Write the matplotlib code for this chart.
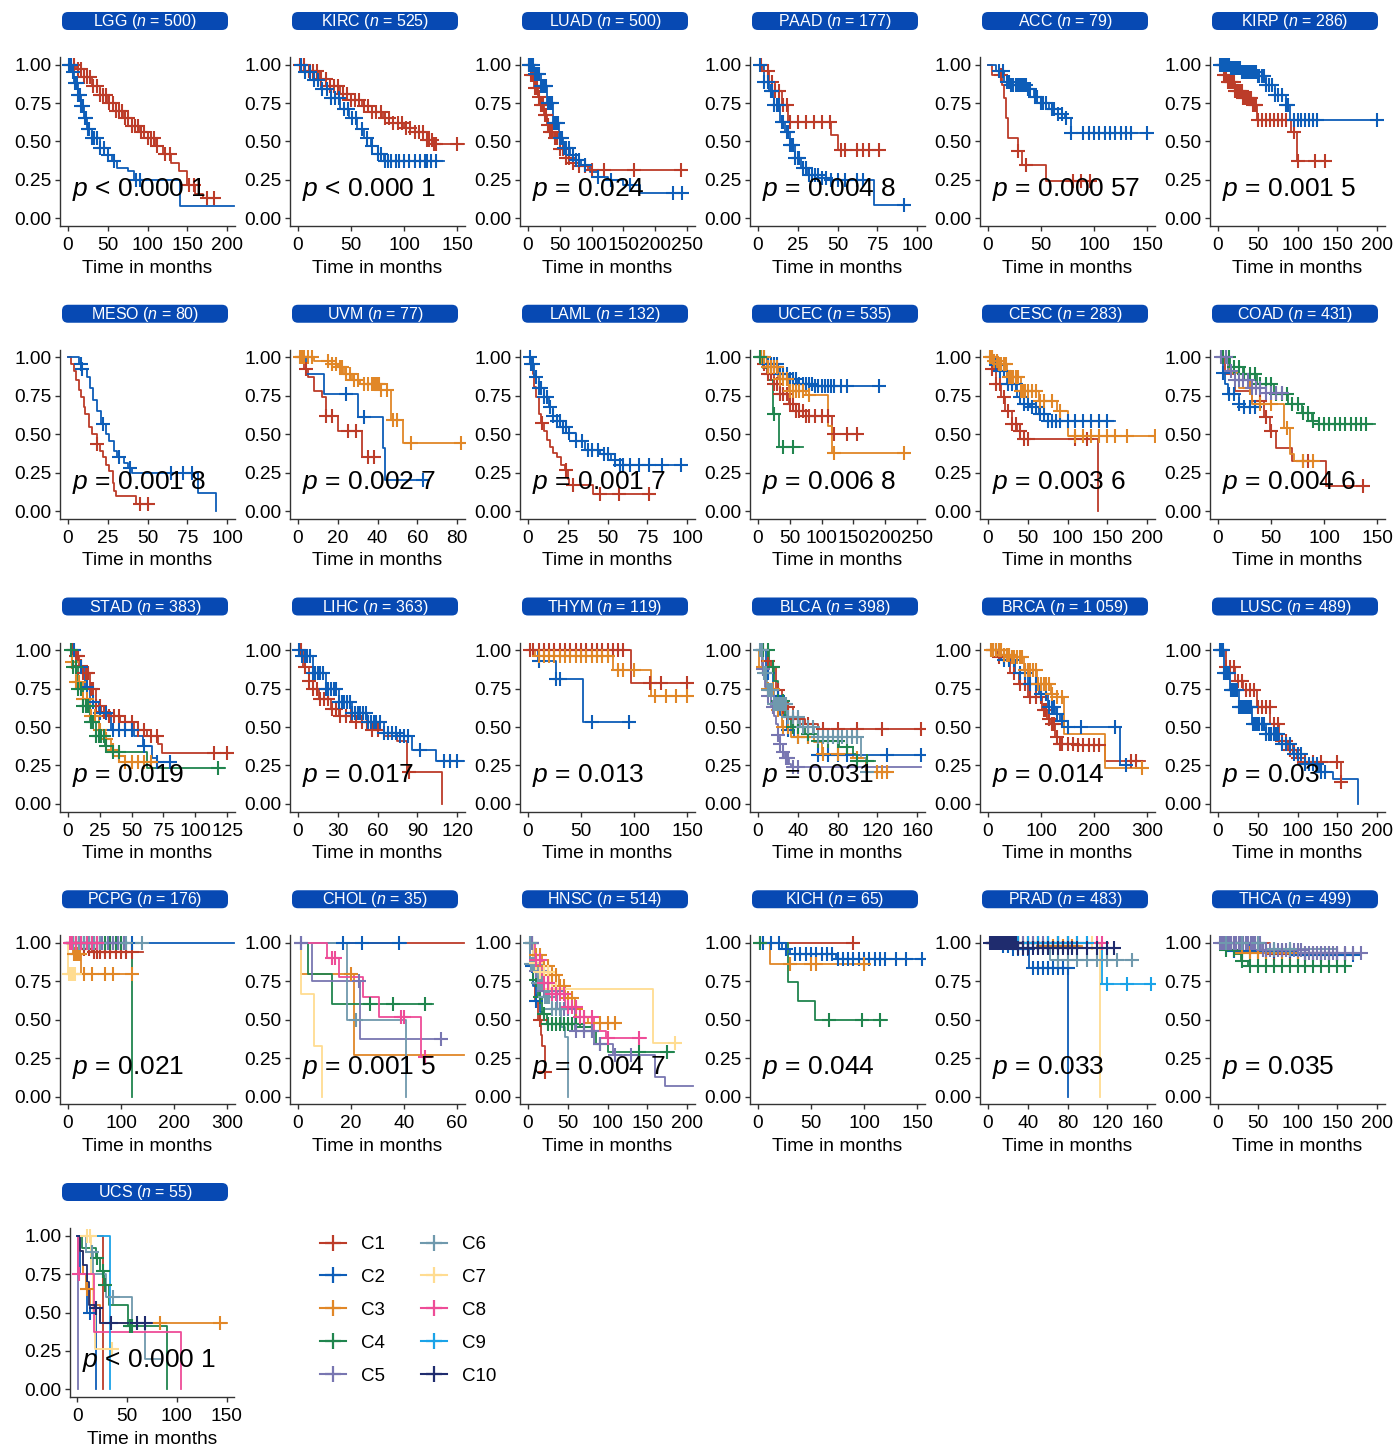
import numpy as np
import matplotlib
matplotlib.use("Agg")
import matplotlib.pyplot as plt
from matplotlib.patches import FancyBboxPatch
from matplotlib.lines import Line2D
from matplotlib.transforms import IdentityTransform

plt.rcParams['font.family'] = ['Liberation Sans', 'DejaVu Sans']
plt.rcParams['mathtext.fontset'] = 'custom'
plt.rcParams['mathtext.rm'] = 'Liberation Sans'
plt.rcParams['mathtext.it'] = 'Liberation Sans:italic'

# cluster colours
cluster_names = ["C1", "C2", "C3", "C4", "C5", "C6", "C7", "C8", "C9", "C10"]
cluster_colors = ["#BC3C29", "#0D5DB8", "#E18727", "#20854E", "#7876B1",
                  "#6F99AD", "#FFDC91", "#EE4C97", "#1AA3E8", "#1F2C6E"]
bar_color = "#0749B3"

# each curve: (step times, survival after step, last follow-up, censor times)
LGG = {
    "C1": ([0, 10, 20, 30, 40, 50, 60, 70, 80, 90, 100, 110, 120, 130, 140, 150, 160, 170],
           [1.0, 0.97, 0.92, 0.86, 0.80, 0.75, 0.70, 0.65, 0.60, 0.56, 0.52, 0.47, 0.42, 0.36, 0.31, 0.22, 0.16, 0.13],
           185, [3, 8, 12, 16, 20, 24, 28, 32, 36, 40, 44, 48, 52, 56, 60, 64, 68, 72, 76, 80, 84, 88, 92, 96,
                 100, 104, 108, 112, 122, 128, 152, 158, 175, 183]),
    "C2": ([0, 5, 8, 12, 16, 20, 24, 30, 40, 50, 55, 62, 75, 83, 141],
           [1.0, 0.95, 0.88, 0.80, 0.73, 0.65, 0.58, 0.52, 0.46, 0.41, 0.37, 0.33, 0.31, 0.25, 0.08],
           209, [1, 4, 6, 9, 11, 13, 15, 17, 19, 21, 23, 25, 27, 30, 33, 36, 40, 45, 50, 58, 85, 90]),
}
KIRC = {
    "C1": ([0, 10, 20, 30, 40, 50, 60, 70, 80, 90, 100, 110, 122, 128],
           [1.0, 0.96, 0.91, 0.86, 0.81, 0.77, 0.73, 0.69, 0.65, 0.62, 0.59, 0.565, 0.51, 0.485],
           157, [2, 6, 10, 14, 18, 22, 26, 30, 34, 38, 42, 46, 50, 54, 58, 62, 66, 70, 74, 78, 82, 86, 90, 94,
                 98, 102, 106, 110, 114, 118, 122, 124, 126, 128, 130, 150]),
    "C2": ([0, 7, 14, 22, 31, 40, 48, 56, 62, 69, 75, 81],
           [1.0, 0.95, 0.90, 0.84, 0.78, 0.71, 0.65, 0.58, 0.52, 0.47, 0.42, 0.37],
           138, [3, 7, 11, 15, 19, 23, 27, 31, 35, 39, 43, 47, 51, 55, 60, 65, 70, 75, 78, 82, 85, 88, 92, 95,
                 100, 105, 110, 115, 120, 122, 125, 130]),
}
LUAD = {
    "C1": ([0, 5, 10, 15, 20, 25, 30, 35, 40, 50, 60, 70, 80, 95],
           [1.0, 0.93, 0.85, 0.79, 0.74, 0.67, 0.61, 0.56, 0.52, 0.45, 0.39, 0.36, 0.34, 0.315],
           247, [2, 5, 8, 11, 14, 17, 20, 23, 26, 29, 32, 35, 38, 42, 46, 50, 55, 60, 65, 70, 80, 90, 100, 120,
                 166, 240]),
    "C2": ([0, 10, 20, 30, 40, 48, 55, 66, 75, 84, 98, 110, 126, 150, 176],
           [1.0, 0.94, 0.86, 0.75, 0.62, 0.52, 0.46, 0.41, 0.38, 0.35, 0.30, 0.27, 0.25, 0.22, 0.165],
           250, [2, 5, 8, 11, 14, 17, 20, 23, 26, 29, 32, 35, 38, 41, 44, 47, 50, 53, 56, 60, 65, 70, 75, 80,
                 90, 110, 130, 160, 228, 242]),
}
PAAD = {
    "C1": ([0, 3, 7, 11, 15, 19, 46, 50],
           [1.0, 0.96, 0.89, 0.83, 0.74, 0.63, 0.54, 0.445],
           80, [2, 6, 9, 11, 13, 16, 18, 20, 25, 30, 35, 40, 45, 52, 55, 62, 66, 70, 76]),
    "C2": ([0, 4, 7, 10, 14, 17, 20, 23, 27, 31, 40, 45, 73],
           [1.0, 0.89, 0.83, 0.74, 0.63, 0.565, 0.48, 0.39, 0.33, 0.28, 0.26, 0.25, 0.087],
           93, [1, 4, 6, 8, 9, 10, 12, 13, 15, 16, 18, 19, 20, 21, 22, 23, 25, 26, 28, 30, 32, 34, 36, 38, 40,
                43, 46, 50, 55, 62, 66, 92]),
}
ACC = {
    "C1": ([0, 4, 13, 15, 17, 19, 28, 32, 55],
           [1.0, 0.935, 0.87, 0.78, 0.65, 0.52, 0.435, 0.35, 0.24],
           98, [12, 28, 36, 80, 88, 96]),
    "C2": ([0, 8, 15, 22, 38, 43, 50, 58, 66, 73, 78],
           [1.0, 0.96, 0.89, 0.87, 0.84, 0.79, 0.75, 0.71, 0.68, 0.65, 0.555],
           153, [10, 14, 18, 20, 22, 24, 26, 28, 30, 32, 34, 36, 38, 40, 44, 46, 50, 52, 55, 60, 62, 66, 70, 74,
                 78, 90, 95, 100, 105, 110, 115, 120, 125, 130, 135, 150]),
}
KIRP = {
    "C1": ([0, 7, 12, 21, 32, 43, 49, 92, 99],
           [1.0, 0.935, 0.89, 0.83, 0.78, 0.74, 0.64, 0.565, 0.37],
           136, [5, 8, 10, 12, 14, 16, 18, 20, 22, 24, 26, 28, 30, 32, 34, 36, 38, 40, 42, 44, 46, 48, 50, 55,
                 60, 65, 70, 75, 80, 85, 95, 100, 122, 135]),
    "C2": ([0, 15, 30, 50, 60, 72, 85, 91],
           [1.0, 0.98, 0.955, 0.925, 0.87, 0.80, 0.74, 0.64],
           203, [2, 4, 6, 8, 10, 12, 14, 16, 18, 20, 22, 24, 26, 28, 30, 32, 34, 36, 38, 40, 42, 44, 46, 48, 50,
                 52, 55, 58, 60, 64, 68, 72, 76, 80, 85, 88, 95, 100, 105, 110, 115, 120, 125, 200]),
}
MESO = {
    "C1": ([0, 2, 4, 5, 7, 8, 10, 11, 13, 15, 18, 20, 22, 24, 26, 28, 29, 30, 43],
           [1.0, 0.96, 0.91, 0.85, 0.79, 0.74, 0.68, 0.63, 0.55, 0.50, 0.435, 0.39, 0.35, 0.30, 0.26, 0.18,
            0.13, 0.10, 0.043],
           52, [18, 45, 50]),
    "C2": ([0, 7, 9, 12, 14, 16, 18, 21, 24, 26, 29, 31, 35, 38, 40, 82, 93],
           [1.0, 0.96, 0.925, 0.87, 0.80, 0.72, 0.65, 0.565, 0.50, 0.455, 0.39, 0.35, 0.31, 0.28, 0.25, 0.12,
            0.0],
           93, [8, 9, 22, 32, 39, 65, 72, 78]),
}
UVM = {
    "C1": ([0, 3, 5, 8, 12, 14, 20, 32],
           [1.0, 0.925, 0.87, 0.78, 0.74, 0.62, 0.52, 0.35],
           41, [2, 4, 14, 17, 25, 29, 35, 38]),
    "C2": ([0, 4, 13, 30, 43, 44],
           [1.0, 0.89, 0.76, 0.61, 0.41, 0.20],
           65, [24, 33, 63]),
    "C3": ([0, 8, 17, 20, 23, 27, 31, 42, 47, 53],
           [1.0, 0.98, 0.955, 0.935, 0.89, 0.85, 0.83, 0.79, 0.59, 0.445],
           83, [1, 2, 3, 5, 7, 15, 17, 19, 21, 22, 24, 26, 28, 30, 33, 35, 37, 38, 39, 40, 41, 42, 45, 48, 50,
                57, 82]),
}
LAML = {
    "C1": ([0, 2, 3, 4, 5, 7, 8, 10, 12, 14, 16, 18, 21, 23, 25, 26, 41],
           [1.0, 0.93, 0.89, 0.81, 0.74, 0.63, 0.57, 0.52, 0.46, 0.42, 0.38, 0.35, 0.30, 0.27, 0.21, 0.17,
            0.11],
           78, [9, 24, 28, 45, 57, 76]),
    "C2": ([0, 2, 4, 7, 10, 13, 16, 18, 22, 26, 30, 36, 45, 52, 58],
           [1.0, 0.955, 0.87, 0.80, 0.74, 0.675, 0.62, 0.585, 0.55, 0.51, 0.455, 0.40, 0.37, 0.33, 0.30],
           97, [1, 2, 3, 5, 7, 8, 10, 12, 14, 16, 18, 20, 22, 24, 26, 30, 34, 38, 40, 44, 48, 50, 55, 58, 60,
                64, 70, 76, 84, 96]),
}
UCEC = {
    "C1": ([0, 7, 14, 25, 35, 49, 60, 75, 116],
           [1.0, 0.955, 0.89, 0.83, 0.76, 0.70, 0.65, 0.62, 0.50],
           162, [10, 15, 20, 25, 30, 35, 40, 45, 50, 55, 60, 65, 70, 75, 80, 90, 100, 110, 120, 140, 155]),
    "C2": ([0, 14, 32, 49, 63, 90],
           [1.0, 0.955, 0.89, 0.86, 0.83, 0.815],
           197, [5, 10, 15, 20, 25, 30, 35, 40, 45, 50, 55, 60, 65, 70, 75, 80, 85, 90, 95, 100, 105, 110, 115,
                 120, 130, 140, 190]),
    "C3": ([0, 14, 32, 49, 75, 110, 116],
           [1.0, 0.935, 0.86, 0.78, 0.755, 0.555, 0.38],
           236, [5, 10, 15, 20, 25, 30, 35, 40, 45, 50, 55, 60, 65, 70, 80, 120, 230]),
    "C4": ([0, 8, 15, 23, 33],
           [1.0, 0.93, 0.85, 0.63, 0.42],
           70, [3, 25, 40, 55]),
}
CESC = {
    "C1": ([0, 5, 10, 16, 22, 30, 36, 45, 138],
           [1.0, 0.925, 0.83, 0.74, 0.65, 0.565, 0.52, 0.467, 0.0],
           138, [5, 10, 15, 20, 25, 30, 35, 40, 45, 50, 110, 125]),
    "C2": ([0, 7, 13, 24, 36, 45, 53, 64, 75],
           [1.0, 0.95, 0.91, 0.83, 0.74, 0.70, 0.675, 0.63, 0.585],
           160, [5, 10, 15, 20, 25, 30, 35, 40, 45, 50, 55, 60, 65, 70, 75, 80, 85, 90, 100, 110, 120, 130, 140,
                 150]),
    "C3": ([0, 8, 13, 24, 41, 64, 87, 101],
           [1.0, 0.98, 0.955, 0.87, 0.78, 0.717, 0.65, 0.49],
           211, [2, 5, 8, 11, 14, 17, 20, 23, 26, 29, 32, 35, 38, 41, 44, 47, 50, 55, 60, 65, 70, 80, 90, 110,
                 120, 130, 140, 150, 160, 175, 210]),
}
COAD = {
    "C1": ([0, 7, 16, 32, 43, 49, 55, 70, 102],
           [1.0, 0.89, 0.78, 0.717, 0.61, 0.52, 0.41, 0.326, 0.165],
           137, [40, 45, 50, 80, 85, 137]),
    "C2": ([0, 5, 7, 9, 20, 25],
           [1.0, 0.90, 0.83, 0.76, 0.70, 0.675],
           39, [5, 10, 15, 20, 25, 30, 35]),
    "C3": ([0, 10, 20, 32, 62, 68, 72],
           [1.0, 0.90, 0.80, 0.70, 0.543, 0.37, 0.326],
           91, [30, 40, 50, 65, 80, 90]),
    "C4": ([0, 11, 24, 37, 53, 66, 79, 89, 95],
           [1.0, 0.935, 0.89, 0.83, 0.76, 0.70, 0.64, 0.585, 0.565],
           148, [5, 10, 15, 20, 25, 30, 35, 40, 45, 50, 55, 60, 65, 70, 75, 80, 85, 90, 95, 100, 105, 110, 115,
                 120, 125, 130, 135, 140]),
    "C5": ([0, 9, 16, 32, 45],
           [1.0, 0.91, 0.85, 0.80, 0.77],
           62, [3, 8, 12, 16, 20, 24, 28, 32, 36, 40, 45, 50, 55, 60]),
}
STAD = {
    "C1": ([0, 5, 9, 12, 17, 22, 26, 31, 41, 52, 62, 71, 74],
           [1.0, 0.96, 0.90, 0.85, 0.745, 0.635, 0.60, 0.57, 0.53, 0.48, 0.44, 0.39, 0.33],
           127, [4, 6, 8, 10, 12, 14, 16, 18, 20, 22, 25, 28, 32, 36, 40, 45, 50, 55, 60, 65, 70, 115, 125]),
    "C2": ([0, 6, 13, 17, 24, 34, 52, 59, 66, 70],
           [1.0, 0.89, 0.76, 0.66, 0.59, 0.48, 0.44, 0.375, 0.30, 0.27],
           85, [5, 10, 15, 20, 25, 30, 35, 40, 45, 50, 60, 70, 80]),
    "C3": ([0, 3, 6, 12, 17, 24, 29, 34, 40, 45],
           [1.0, 0.92, 0.79, 0.68, 0.57, 0.48, 0.42, 0.35, 0.31, 0.27],
           66, [3, 6, 9, 12, 15, 18, 21, 25, 30, 35, 40, 45, 50, 55, 60, 65]),
    "C4": ([0, 3, 8, 12, 17, 22, 29, 35, 62],
           [1.0, 0.89, 0.745, 0.635, 0.53, 0.44, 0.375, 0.34, 0.235],
           123, [2, 4, 6, 8, 10, 12, 14, 16, 18, 20, 22, 24, 26, 28, 30, 35, 40, 118]),
}
LIHC = {
    "C1": ([0, 4, 8, 11, 16, 25, 31, 41, 55, 65, 75, 82, 109],
           [1.0, 0.89, 0.80, 0.745, 0.68, 0.615, 0.57, 0.53, 0.48, 0.44, 0.41, 0.21, 0.0],
           109, [2, 5, 8, 11, 14, 17, 20, 23, 26, 29, 32, 36, 40, 44, 48, 52, 56, 60, 84]),
    "C2": ([0, 3, 11, 21, 31, 41, 52, 65, 75, 86, 104],
           [1.0, 0.96, 0.85, 0.745, 0.66, 0.59, 0.53, 0.46, 0.44, 0.35, 0.28],
           125, [1, 3, 5, 7, 9, 11, 13, 15, 17, 19, 21, 23, 25, 27, 29, 31, 33, 35, 37, 39, 41, 43, 45, 47, 49,
                 51, 53, 55, 57, 59, 62, 65, 68, 71, 74, 77, 80, 83, 92, 110, 115, 120]),
}
THYM = {
    "C1": ([0, 97],
           [1.0, 0.785],
           154, [2, 5, 10, 15, 20, 25, 30, 35, 40, 45, 50, 55, 60, 65, 70, 75, 80, 85, 90, 115, 125, 150]),
    "C2": ([0, 9, 26, 52],
           [1.0, 0.93, 0.81, 0.535],
           100, [10, 26, 30, 60, 95]),
    "C3": ([0, 7, 80, 116],
           [1.0, 0.96, 0.87, 0.70],
           154, [10, 15, 20, 25, 30, 35, 40, 45, 50, 55, 60, 65, 70, 75, 85, 90, 100, 120, 130, 140, 150]),
}
BLCA = {
    "C1": ([0, 10, 13, 18, 24, 35, 47, 60],
           [1.0, 0.93, 0.89, 0.74, 0.63, 0.55, 0.52, 0.49],
           164, [5, 10, 15, 20, 25, 30, 35, 40, 50, 65, 80, 100, 125, 164]),
    "C2": ([0, 8, 15, 22, 29, 36, 60],
           [1.0, 0.85, 0.70, 0.58, 0.48, 0.435, 0.315],
           164, [10, 20, 30, 40, 50, 60, 70, 80, 90, 130, 164]),
    "C3": ([0, 1, 8, 16, 24, 33, 56, 64, 96, 109],
           [1.0, 0.89, 0.75, 0.61, 0.50, 0.435, 0.40, 0.326, 0.30, 0.21],
           136, [5, 10, 15, 20, 25, 30, 40, 50, 65, 80, 100, 120, 125, 130]),
    "C4": ([0, 11, 16, 20, 27, 33, 47, 60, 82, 96, 100],
           [1.0, 0.89, 0.80, 0.67, 0.565, 0.50, 0.455, 0.41, 0.37, 0.326, 0.28],
           118, [5, 10, 15, 20, 25, 30, 35, 40, 50, 60, 70, 80, 90, 100, 110]),
    "C5": ([0, 4, 7, 10, 13, 16, 18, 20, 22, 25, 27, 31, 33],
           [1.0, 0.88, 0.76, 0.70, 0.63, 0.57, 0.52, 0.45, 0.39, 0.34, 0.30, 0.26, 0.24],
           164, [5, 10, 15, 20, 22, 25, 28, 30, 35, 40]),
    "C6": ([0, 5, 9, 16, 29, 42, 56, 104, 110],
           [1.0, 0.85, 0.74, 0.65, 0.565, 0.50, 0.435, 0.30, 0.21],
           125, [2, 4, 6, 8, 10, 12, 14, 16, 18, 20, 22, 24, 26, 28, 30, 35, 40, 45, 50, 55, 60, 65, 70, 75, 80,
                 85, 90, 95, 100, 110]),
}
BRCA = {
    "C1": ([0, 17, 42, 59, 76, 101, 112, 118, 127, 131, 170, 220],
           [1.0, 0.955, 0.85, 0.78, 0.695, 0.61, 0.55, 0.52, 0.435, 0.39, 0.38, 0.28],
           296, [10, 20, 30, 40, 50, 60, 70, 80, 90, 100, 105, 110, 115, 120, 125, 130, 135, 140, 150, 160, 170,
                 180, 190, 200, 210, 270, 280]),
    "C2": ([0, 25, 51, 76, 97, 114, 127, 135, 144, 249],
           [1.0, 0.935, 0.85, 0.78, 0.717, 0.63, 0.585, 0.54, 0.50, 0.25],
           270, [10, 20, 30, 40, 50, 60, 70, 80, 90, 100, 110, 115, 120, 125, 130, 140, 150, 175, 240, 260]),
    "C3": ([0, 30, 42, 68, 93, 118, 130, 144, 220],
           [1.0, 0.97, 0.955, 0.87, 0.78, 0.717, 0.695, 0.455, 0.23],
           296, [5, 10, 15, 20, 25, 30, 35, 40, 45, 50, 55, 60, 65, 70, 75, 80, 85, 90, 95, 100, 105, 110, 115,
                 120, 130, 140, 290]),
}
LUSC = {
    "C1": ([0, 10, 21, 32, 49, 66, 77, 88, 99, 110, 155],
           [1.0, 0.89, 0.80, 0.74, 0.63, 0.52, 0.41, 0.35, 0.30, 0.27, 0.14],
           158, [5, 10, 15, 20, 25, 30, 35, 40, 45, 50, 55, 60, 65, 70, 75, 80, 85, 90, 95, 100, 110, 120, 130,
                 150, 155]),
    "C2": ([0, 7, 15, 26, 43, 60, 77, 94, 110, 127, 144, 176],
           [1.0, 0.85, 0.74, 0.63, 0.52, 0.455, 0.39, 0.326, 0.26, 0.205, 0.163, 0.0],
           176, [2, 4, 6, 8, 10, 12, 14, 16, 18, 20, 22, 24, 26, 28, 30, 32, 34, 36, 38, 40, 42, 44, 46, 48, 50,
                 52, 55, 58, 61, 64, 67, 70, 73, 76, 80, 85, 90, 95, 100, 105, 110, 115, 120, 125, 130, 135]),
}
PCPG = {
    "C1": ([0, 20, 45], [1.0, 0.96, 0.94], 142,
           [5, 10, 15, 20, 30, 40, 50, 55, 60, 70, 80, 90, 100, 110, 120]),
    "C2": ([0], [1.0], 313, [5, 10, 20, 30, 40, 60, 80, 100, 120]),
    "C3": ([0, 10, 25], [1.0, 0.93, 0.80], 125, [12, 15, 18, 22, 30, 45, 70, 85, 120]),
    "C4": ([0, 120], [1.0, 0.0], 120, [10, 20, 30, 40, 50, 60, 70, 80, 90, 100]),
    "C5": ([0], [1.0], 110, [5, 15, 25, 35, 45, 55, 65, 75, 85, 95, 105]),
    "C6": ([0], [1.0], 140, [10, 20, 30, 40, 50, 60, 110, 140]),
    "C7": ([0, 0.5], [1.0, 0.80], 14, [2, 5, 10, 14]),
    "C8": ([0], [1.0], 60, [3, 8, 15, 25, 35, 45, 55]),
}
CHOL = {
    "C1": ([0], [1.0], 62.5, []),
    "C2": ([0], [1.0], 40.7, [1, 17, 24, 38]),
    "C3": ([0, 1, 21], [1.0, 0.80, 0.27], 62.5, [20]),
    "C4": ([0, 3.7, 13], [1.0, 0.80, 0.60], 51, [27, 36, 48]),
    "C5": ([0, 5.4, 23.5], [1.0, 0.75, 0.375], 56, [1, 23, 54]),
    "C6": ([0, 18.5, 40.7], [1.0, 0.50, 0.0], 40.7, [22]),
    "C7": ([0, 1, 6, 9.2], [1.0, 0.67, 0.33, 0.0], 9.2, []),
    "C8": ([0, 11, 15.5, 24.7, 30.6, 46.5], [1.0, 0.90, 0.78, 0.65, 0.52, 0.26], 50, [13, 14, 39, 40, 48]),
}
HNSC = {
    "C1": ([0, 3, 6, 9, 12, 16, 18, 21], [1.0, 0.90, 0.74, 0.62, 0.50, 0.40, 0.33, 0.16], 27, [15, 22]),
    "C2": ([0, 3, 6, 10, 15], [1.0, 0.85, 0.72, 0.62, 0.55], 20, [5, 10]),
    "C3": ([0, 6, 18, 30, 39, 47, 59, 65, 75],
           [1.0, 0.92, 0.85, 0.79, 0.72, 0.64, 0.57, 0.52, 0.48],
           116, [5, 10, 15, 20, 25, 30, 35, 40, 45, 50, 55, 60, 70, 80, 90, 100, 110]),
    "C4": ([0, 6, 12, 18, 24, 65, 71, 86, 101],
           [1.0, 0.76, 0.65, 0.54, 0.475, 0.45, 0.43, 0.345, 0.29],
           184, [5, 10, 15, 20, 25, 30, 35, 40, 45, 50, 55, 60, 70, 80, 90, 140, 175]),
    "C5": ([0, 6, 18, 36, 59, 83, 107, 160, 172],
           [1.0, 0.82, 0.69, 0.57, 0.43, 0.345, 0.27, 0.13, 0.07],
           208, [5, 10, 15, 20, 25, 30, 35, 40, 45, 50, 60, 70, 80, 90, 110, 130]),
    "C6": ([0, 3, 12, 20, 30, 42, 47, 50.5],
           [1.0, 0.86, 0.74, 0.65, 0.57, 0.45, 0.39, 0.0],
           50.5, [2, 4, 6, 8, 10, 12, 15, 18, 21, 24, 27, 30, 35, 40]),
    "C7": ([0, 6, 15, 27, 157], [1.0, 0.87, 0.81, 0.70, 0.35], 187, [10, 15, 20, 25, 30, 35, 185]),
    "C8": ([0, 9, 18, 30, 47, 65, 83, 98],
           [1.0, 0.89, 0.74, 0.67, 0.58, 0.52, 0.43, 0.38],
           148, [10, 15, 20, 25, 30, 35, 40, 45, 50, 55, 60, 65, 70, 80, 100, 140]),
}
KICH = {
    "C1": ([0], [1.0], 95, [2, 90]),
    "C2": ([0, 23, 30, 74], [1.0, 0.96, 0.925, 0.895], 156,
           [5, 12, 20, 26, 35, 40, 45, 50, 55, 60, 65, 70, 75, 80, 85, 90, 95, 100, 105, 110, 115, 120, 130,
            140, 155]),
    "C3": ([0, 11], [1.0, 0.865], 103, [30, 50, 55, 100]),
    "C4": ([0, 28, 38, 54], [1.0, 0.745, 0.625, 0.50], 122, [2, 67, 98, 115]),
}
PRAD = {
    "C1": ([0], [1.0], 90, [5, 10, 20, 30, 40, 50, 60, 70, 80]),
    "C2": ([0, 15, 25, 41, 80.5], [1.0, 0.98, 0.96, 0.84, 0.0], 80.5,
           [5, 10, 15, 20, 25, 30, 35, 40, 45, 50, 55, 60, 65, 70, 75, 80]),
    "C3": ([0, 50], [1.0, 0.98], 95, [5, 15, 25, 35, 45, 55, 65, 75, 85]),
    "C4": ([0], [1.0], 85, [10, 20, 30, 40, 50, 60, 70, 80]),
    "C5": ([0], [1.0], 60, [5, 15, 25, 35, 45, 55]),
    "C6": ([0, 40, 62], [1.0, 0.97, 0.89], 148, [50, 60, 70, 80, 90, 100, 110, 120, 130, 145]),
    "C7": ([0, 113], [1.0, 0.0], 113, [10, 30, 50, 70, 90, 105]),
    "C8": ([0], [1.0], 115, [10, 20, 30, 40, 50, 60, 70, 80, 90, 100, 110, 115]),
    "C9": ([0, 115], [1.0, 0.735], 164, [10, 20, 30, 40, 50, 60, 70, 80, 90, 100, 120, 140, 164]),
    "C10": ([0, 30], [1.0, 0.97], 127,
            [2, 4, 6, 8, 10, 12, 14, 16, 18, 20, 22, 24, 26, 28, 30, 35, 40, 45, 50, 55, 60, 65, 70, 75, 80,
             85, 90, 100, 110, 120, 127]),
}
THCA = {
    "C1": ([0, 66], [1.0, 0.925], 166, [70, 90, 110, 130, 150, 160]),
    "C2": ([0, 20, 99], [1.0, 0.95, 0.92], 175,
           [10, 20, 30, 40, 50, 60, 70, 80, 90, 100, 110, 120, 130, 140, 150, 160, 170]),
    "C3": ([0, 26], [1.0, 0.935], 144, [20, 30, 40, 50, 60, 80, 100, 120, 140]),
    "C4": ([0, 7, 21, 29, 38], [1.0, 0.955, 0.925, 0.88, 0.85], 160,
           [10, 20, 30, 40, 50, 60, 70, 80, 90, 100, 110, 120, 130, 140, 150, 160]),
    "C5": ([0, 54, 110], [1.0, 0.955, 0.935], 183,
           [2, 5, 8, 11, 14, 17, 20, 23, 26, 29, 32, 35, 38, 41, 44, 47, 50, 53, 56, 60, 65, 70, 75, 80, 85,
            90, 95, 100, 105, 110, 115, 120, 125, 130, 135, 140, 145, 150, 160, 170, 180]),
    "C6": ([0, 60], [1.0, 0.96], 150, [10, 30, 50, 70, 90]),
}
UCS = {
    "C1": ([0, 26], [1.0, 0.0], 26, []),
    "C2": ([0, 3, 10, 19], [1.0, 0.75, 0.50, 0.0], 19, [13]),
    "C3": ([0, 3, 6, 9, 13, 23], [1.0, 0.90, 0.75, 0.65, 0.55, 0.43], 150, [10, 83, 143]),
    "C4": ([0, 5, 19, 23, 27, 32, 51, 90], [1.0, 0.92, 0.855, 0.77, 0.68, 0.55, 0.41, 0.0], 90,
           [20, 26, 28, 53, 55]),
    "C5": ([0, 0.6], [1.0, 0.0], 0.6, []),
    "C6": ([0, 9, 16, 29, 55, 68], [1.0, 0.895, 0.75, 0.60, 0.43, 0.20], 83, [15, 36]),
    "C7": ([0, 14, 16, 18], [1.0, 0.75, 0.50, 0.26], 36, [10, 13, 35]),
    "C8": ([0, 1, 17, 104], [1.0, 0.75, 0.375, 0.0], 104, [2]),
    "C9": ([0, 33], [1.0, 0.0], 33, []),
    "C10": ([0, 3, 6, 10, 12, 18, 23], [1.0, 0.90, 0.81, 0.70, 0.55, 0.53, 0.43], 75, [19, 34, 60, 68]),
}

# panel order: name, n, curves, last x tick, x tick step, p value
panel_names = ["LGG", "KIRC", "LUAD", "PAAD", "ACC", "KIRP",
               "MESO", "UVM", "LAML", "UCEC", "CESC", "COAD",
               "STAD", "LIHC", "THYM", "BLCA", "BRCA", "LUSC",
               "PCPG", "CHOL", "HNSC", "KICH", "PRAD", "THCA", "UCS"]
panel_n = ["500", "525", "500", "177", "79", "286",
           "80", "77", "132", "535", "283", "431",
           "383", "363", "119", "398", "1 059", "489",
           "176", "35", "514", "65", "483", "499", "55"]
panel_curves = [LGG, KIRC, LUAD, PAAD, ACC, KIRP, MESO, UVM, LAML, UCEC, CESC, COAD,
                STAD, LIHC, THYM, BLCA, BRCA, LUSC, PCPG, CHOL, HNSC, KICH, PRAD, THCA, UCS]
x_max = [200, 150, 250, 100, 150, 200, 100, 80, 100, 250, 200, 150,
         125, 120, 150, 160, 300, 200, 300, 60, 200, 150, 160, 200, 150]
x_step = [50, 50, 50, 25, 50, 50, 25, 20, 25, 50, 50, 50,
          25, 30, 50, 40, 100, 50, 100, 20, 50, 50, 40, 50, 50]
p_values = ["< 0.000 1", "< 0.000 1", "= 0.024", "= 0.004 8", "= 0.000 57", "= 0.001 5",
            "= 0.001 8", "= 0.002 7", "= 0.001 7", "= 0.006 8", "= 0.003 6", "= 0.004 6",
            "= 0.019", "= 0.017", "= 0.013", "= 0.031", "= 0.014", "= 0.03",
            "= 0.021", "= 0.001 5", "= 0.004 7", "= 0.044", "= 0.033", "= 0.035", "< 0.000 1"]

W, H = 1397, 1446
fig = plt.figure(figsize=(W / 100, H / 100), dpi=100)
color_of = dict(zip(cluster_names, cluster_colors))

for i, name in enumerate(panel_names):
    r, c = divmod(i, 6)
    left = 60 + 230 * c
    width = 175
    if name == "UCS":
        left, width = 70, 164
    top = 57 + 292.75 * r
    height = 169
    ax = fig.add_axes([left / W, 1 - (top + height) / H, width / W, height / H])

    for cl in cluster_names:
        if cl not in panel_curves[i]:
            continue
        times, surv, end, cens = panel_curves[i][cl]
        col = color_of[cl]
        xs = list(times) + [end]
        ys = list(surv) + [surv[-1]]
        ax.step(xs, ys, where='post', color=col, lw=1.3, zorder=2)
        if cens:
            idx = np.searchsorted(times, cens, side='right') - 1
            ax.plot(cens, np.array(surv)[idx], '+', color=col, ms=10, mew=1.5, zorder=3)

    M = x_max[i]
    ax.set_xlim(-0.05 * M, 1.05 * M)
    ax.set_ylim(-0.05, 1.05)
    ax.set_xticks(np.arange(0, M + 0.1, x_step[i]))
    ax.set_yticks([0, 0.25, 0.5, 0.75, 1.0])
    ax.set_yticklabels(["0.00", "0.25", "0.50", "0.75", "1.00"])
    for s in ["top", "right"]:
        ax.spines[s].set_visible(False)
    for s in ["left", "bottom"]:
        ax.spines[s].set_linewidth(1.0)
        ax.spines[s].set_color("#333333")
    ax.tick_params(direction='out', length=3.5, width=1.0, color="#333333", labelsize=13.8)
    ax.tick_params(axis='x', pad=4.5)
    ax.tick_params(axis='y', pad=2.5)
    ax.set_xlabel("Time in months", fontsize=13.8, labelpad=4)
    ax.text(12 / width, 0.145, "$p$ " + p_values[i], transform=ax.get_yaxis_transform(),
            fontsize=19, ha='left', va='baseline', zorder=5)

    # strip title
    bx = 62 + 230 * c
    by = 12 + 292.75 * r
    patch = FancyBboxPatch((bx, H - by - 18), 166, 18, boxstyle="round,pad=0,rounding_size=6",
                           transform=IdentityTransform(), fc=bar_color, ec='none')
    fig.add_artist(patch)
    fig.text((bx + 83) / W, 1 - (by + 9.5) / H, name + " ($n$ = " + panel_n[i] + ")",
             ha='center', va='center', color='white', fontsize=11.5)

# legend
handles = [Line2D([0], [0], color=col, lw=1.5, marker='+', ms=12, mew=1.6) for col in cluster_colors]
fig.legend(handles, cluster_names, loc='upper left', bbox_to_anchor=(320 / W, 1 - 1236 / H),
           ncol=2, frameon=False, fontsize=13.5, handlelength=1.4, handletextpad=0.8,
           labelspacing=0.84, columnspacing=1.9, borderpad=0, borderaxespad=0)

fig.savefig("out.png", dpi=100)
